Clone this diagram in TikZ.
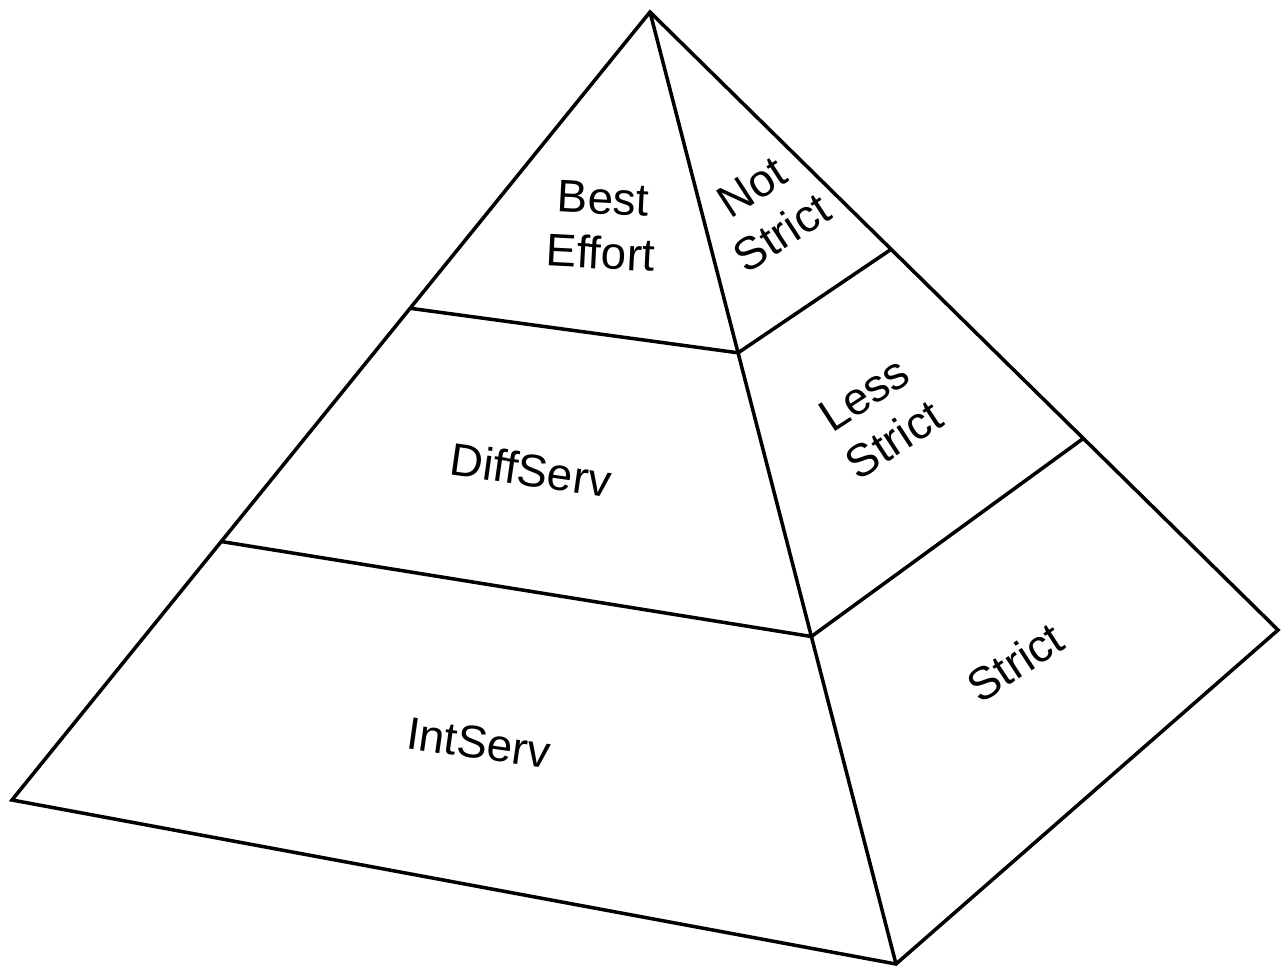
\documentclass[tikz,border=0pt]{standalone}
\usepackage{fontspec}
\setmainfont{Liberation Sans}
\usetikzlibrary{calc}

\begin{document}
\begin{tikzpicture}[
  x=0.02cm, y=-0.02cm,
  edge/.style={line width=2pt, line join=miter},
  lbl/.style={font=\fontsize{26}{31}\selectfont, align=center, inner sep=0pt},
  side/.style={lbl, rotate=33}
]
\useasboundingbox (0,0) rectangle (1282,969);

% corners of the pyramid
\coordinate (apex) at (650,12);
\coordinate (left) at (12,800);
\coordinate (front) at (896,964);
\coordinate (back) at (1278,630);

% tier boundaries on the three edges
\coordinate (l1) at ($(apex)!0.376!(left)$);
\coordinate (f1) at ($(apex)!0.358!(front)$);
\coordinate (r1) at ($(apex)!0.384!(back)$);
\coordinate (l2) at ($(apex)!0.672!(left)$);
\coordinate (f2) at ($(apex)!0.656!(front)$);
\coordinate (r2) at ($(apex)!0.690!(back)$);

\draw[edge] (apex) -- (left) -- (front) -- (back) -- cycle;
\draw[edge] (apex) -- (front);
\draw[edge] (l1) -- (f1) -- (r1);
\draw[edge] (l2) -- (f2) -- (r2);

% left face
\node[lbl, rotate=-3] (best) at (602,226) {Best\\Effort};
\node[lbl, rotate=-8] (diff) at (531,470) {DiffServ};
\node[lbl, rotate=-8] (int) at (479,743) {IntServ};

% right face
\node[side] (notstr) at (767,210) {Not\\Strict};
\node[side] (lessstr) at (879,417) {Less\\Strict};
\node[side] (str) at (1015,662) {Strict};
\end{tikzpicture}
\end{document}
